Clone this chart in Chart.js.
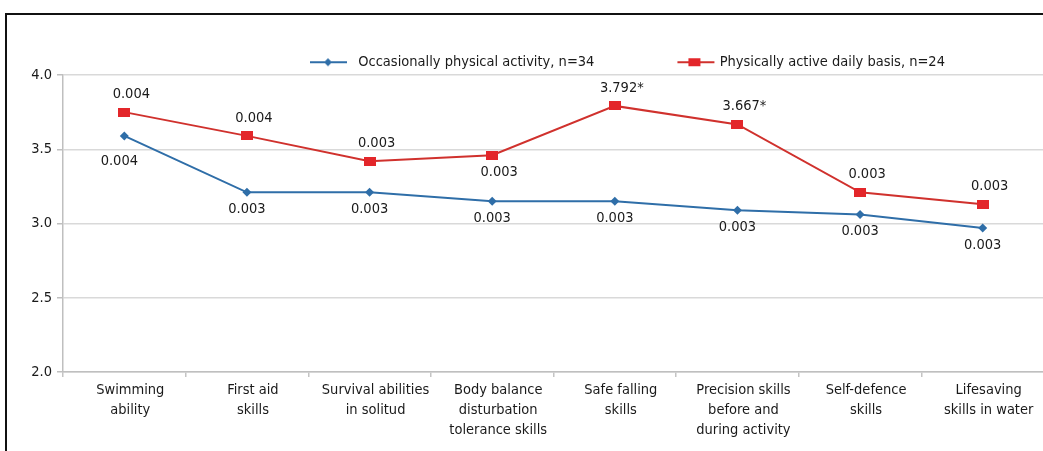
<!DOCTYPE html>
<html>
<head>
<meta charset="utf-8">
<script src="https://cdn.jsdelivr.net/npm/chart.js@4.4.0/dist/chart.umd.min.js"></script>
<style>
	html, body { margin: 0; padding: 0; background: #fff; overflow: hidden; width: 1043px; height: 451px; position: relative; }
	#line-top { position: absolute; left: 5px; top: 13px; width: 1100px; height: 1.5px; background: #111; }
	#line-left { position: absolute; left: 5px; top: 13px; width: 1.5px; height: 500px; background: #111; }
	#wrap { position: absolute; left: 0; top: 0; width: 1052px; height: 451px; }
</style>
</head>
<body>
<div id="line-top"></div>
<div id="line-left"></div>
<div id="wrap"><canvas id="chart"></canvas></div>
<script>
"use strict";

const categories = [
	["Swimming", "ability"],
	["First aid", "skills"],
	["Survival abilities", "in solitud"],
	["Body balance", "disturbation", "tolerance skills"],
	["Safe falling", "skills"],
	["Precision skills", "before and", "during activity"],
	["Self-defence", "skills"],
	["Lifesaving", "skills in water"],
];

const occasionalValues = [3.59, 3.21, 3.21, 3.15, 3.15, 3.09, 3.06, 2.97];
const dailyValues = [3.75, 3.59, 3.42, 3.46, 3.792, 3.667, 3.21, 3.13];

const occasionalLabels = ["0.004", "0.003", "0.003", "0.003", "0.003", "0.003", "0.003", "0.003"];
const dailyLabels = ["0.004", "0.004", "0.003", "0.003", "3.792*", "3.667*", "0.003", "0.003"];

const seriesNames = ["Occasionally physical activity, n=34", "Physically active daily basis, n=24"];

const yMin = 2.0;
const yMax = 4.0;
const yStep = 0.5;

const FONT = "'Liberation Sans Narrow', 'DejaVu Sans Condensed', sans-serif";
const FONT_SIZE = 14.5;
const BLUE = "#2f6ea8";
const RED_LINE = "#d0312d";
const RED_MARK = "#e3262a";
const TEXT = "#1a1a1a";

const LEGEND_BOX = 42;
const LEGEND_GAP = 76;

function makeSquare(w, h, color) {
	const c = document.createElement("canvas");
	c.width = w;
	c.height = h;
	const g = c.getContext("2d");
	g.fillStyle = color;
	g.fillRect(0, 0, w, h);
	return c;
}

// legend swatch: a short line with the marker on it.
// the canvas is centred on the legend box, so the line is placed inside it
function makeLegendSwatch(width, lineFrom, lineTo, mark, lineColor, markColor, diamond) {
	const c = document.createElement("canvas");
	c.width = width;
	c.height = 12;
	const g = c.getContext("2d");
	g.strokeStyle = lineColor;
	g.lineWidth = 2;
	g.beginPath();
	g.moveTo(lineFrom, 6);
	g.lineTo(lineTo, 6);
	g.stroke();
	g.fillStyle = markColor;
	if (diamond) {
		g.beginPath();
		g.moveTo(mark, 2);
		g.lineTo(mark + 4, 6);
		g.lineTo(mark, 10);
		g.lineTo(mark - 4, 6);
		g.closePath();
		g.fill();
	} else {
		g.fillRect(mark - 6, 2, 12, 8);
	}
	return c;
}

const redSquare = makeSquare(12, 9, RED_MARK);
const legendSwatches = [
	makeLegendSwatch(40, 0, 37, 18, BLUE, BLUE, true),
	makeLegendSwatch(48, 10, 47, 27, RED_LINE, RED_MARK, false),
];

// which labels go under their point
const labelBelow = [
	[true, true, true, true, true, true, true, true],
	[false, false, false, true, false, false, false, false],
];

const pointLabelPlugin = {
	id: "pointLabels",
	afterDatasetsDraw(chart) {
		const ctx = chart.ctx;
		ctx.save();
		ctx.font = FONT_SIZE + "px " + FONT;
		ctx.fillStyle = TEXT;
		ctx.textAlign = "center";
		ctx.textBaseline = "middle";
		chart.data.datasets.forEach((ds, di) => {
			const meta = chart.getDatasetMeta(di);
			meta.data.forEach((pt, i) => {
				const below = labelBelow[di][i];
				let dy = below ? 17 : -18;
				let dx = di === 1 ? 7 : 0;
				if (di === 0 && i === 0) {
					dy = 25;
					dx = -5;
				}
				ctx.fillText(ds.valueLabels[i], pt.x + dx, pt.y + dy);
			});
		});
		ctx.restore();
	},
};

// the legend sits right of centre in the original, with a wide gap between items
const legendShiftPlugin = {
	id: "legendShift",
	afterLayout(chart) {
		const lg = chart.legend;
		const startX = (lg.left + LEGEND_GAP + lg.right - lg.lineWidths[0]) / 2;
		const dx = 309 - startX;
		lg.left += dx;
		lg.right += dx;
		// legend draws clipped to its box, so make the box tall enough
		lg.top = -21;
		lg.bottom = 120;
	},
};

window.onload = () => {
	const chart = new Chart(
		document.getElementById("chart"),
		{
			type: "line",
			data: {
				labels: categories,
				datasets: [
					{
						label: seriesNames[0],
						data: occasionalValues,
						valueLabels: occasionalLabels,
						borderColor: BLUE,
						backgroundColor: BLUE,
						borderWidth: 2,
						pointStyle: "rectRot",
						pointRadius: 4.5,
						pointHoverRadius: 4.5,
						pointBackgroundColor: BLUE,
						pointBorderWidth: 0,
						tension: 0,
					},
					{
						label: seriesNames[1],
						data: dailyValues,
						valueLabels: dailyLabels,
						borderColor: RED_LINE,
						backgroundColor: RED_MARK,
						borderWidth: 2,
						pointStyle: redSquare,
						pointRadius: 6,
						tension: 0,
					},
				],
			},
			options: {
				responsive: true,
				maintainAspectRatio: false,
				animation: false,
				layout: {
					padding: { top: 31, left: 0, right: 0, bottom: 0 },
				},
				plugins: {
					tooltip: { enabled: false },
					legend: {
						position: "top",
						align: "center",
						maxHeight: 44,
						labels: {
							usePointStyle: true,
							pointStyleWidth: LEGEND_BOX,
							padding: LEGEND_GAP,
							color: TEXT,
							font: { family: FONT, size: FONT_SIZE },
							generateLabels: c => c.data.datasets.map((ds, i) => ({
								text: ds.label,
								pointStyle: legendSwatches[i],
								fillStyle: ds.borderColor,
								strokeStyle: ds.borderColor,
								lineWidth: 0,
								fontColor: TEXT,
								hidden: false,
								datasetIndex: i,
							})),
						},
					},
				},
				scales: {
					x: {
						offset: true,
						afterFit: s => { s.height = 79; },
						grid: {
							offset: true,
							drawOnChartArea: false,
							drawTicks: true,
							tickLength: 5,
							color: "#c4c4c4",
							lineWidth: 1.5,
						},
						border: { color: "#bfbfbf", width: 1.5 },
						ticks: {
							autoSkip: false,
							maxRotation: 0,
							minRotation: 0,
							padding: 3,
							labelOffset: 6,
							color: TEXT,
							font: { family: FONT, size: FONT_SIZE, lineHeight: 1.38 },
						},
					},
					y: {
						min: yMin,
						max: yMax,
						afterFit: s => { s.width = 63; },
						grid: {
							color: "#d9d9d9",
							lineWidth: 1.5,
							tickLength: 6,
							tickColor: "#bfbfbf",
						},
						border: { color: "#bfbfbf", width: 1.5 },
						ticks: {
							stepSize: yStep,
							padding: 5,
							color: TEXT,
							font: { family: FONT, size: FONT_SIZE },
							callback: v => v.toFixed(1),
						},
					},
				},
			},
			plugins: [pointLabelPlugin, legendShiftPlugin],
		}
	);
};
</script>
</body>
</html>
